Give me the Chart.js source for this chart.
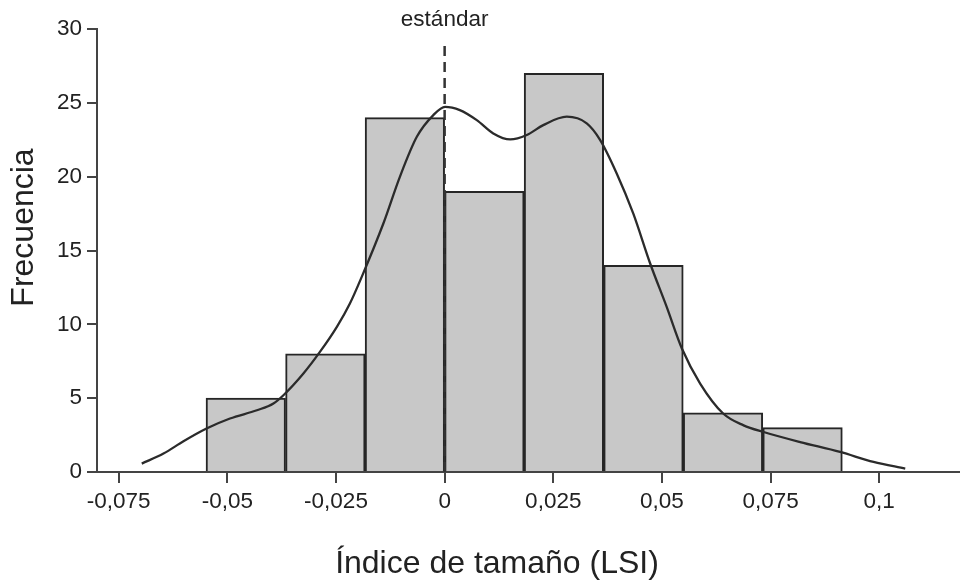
<!DOCTYPE html>
<html><head><meta charset="utf-8">
<script src="https://cdn.jsdelivr.net/npm/chart.js@4.4.0/dist/chart.umd.min.js"></script>
<style>html,body{margin:0;padding:0;background:#fff}#wrap{width:960px;height:581px}</style>
</head><body><div id="wrap"><canvas id="c" width="960" height="581"></canvas></div>
<script>
// ---- data ----
const binCenters = [-0.04576, -0.02745, -0.00915, 0.00915, 0.02745, 0.04576, 0.06406, 0.08237];
const binCounts  = [5, 8, 24, 19, 27, 14, 4, 3];
const curveX = [-0.0697, -0.0647, -0.0601, -0.0548, -0.0494, -0.0432, -0.0394, -0.0371, -0.0325, -0.0287, -0.0248, -0.0218, -0.0191, -0.0141, -0.0103, -0.0064, -0.0026, 0.0001, 0.0035, 0.0074, 0.0112, 0.0151, 0.0189, 0.0227, 0.0281, 0.0327, 0.0358, 0.0396, 0.0434, 0.0473, 0.0511, 0.0546, 0.0588, 0.0641, 0.0688, 0.0734, 0.0818, 0.0910, 0.0987, 0.1060];
const curveY = [0.57, 1.25, 2.08, 2.94, 3.62, 4.18, 4.64, 5.20, 6.67, 8.13, 9.83, 11.41, 13.2, 16.83, 19.99, 22.70, 24.17, 24.73, 24.51, 23.83, 22.93, 22.52, 22.82, 23.49, 24.06, 23.61, 22.48, 20.22, 17.51, 14.12, 11.18, 8.36, 5.99, 3.96, 3.16, 2.71, 2.03, 1.36, 0.68, 0.23];
const xTickValues = [-0.075, -0.05, -0.025, 0, 0.025, 0.05, 0.075, 0.1];
const xTickLabels = ['-0,075', '-0,05', '-0,025', '0', '0,025', '0,05', '0,075', '0,1'];
const yTickValues = [0, 5, 10, 15, 20, 25, 30];
const standardX = 0;
const standardTop = 29.1;
const refLabel = 'estándar';
const xTitle = 'Índice de tamaño (LSI)';
const yTitle = 'Frecuencia';

const FONT = "'Liberation Sans', Arial, sans-serif";

const textPlugin = {
  id: 'texts',
  afterDraw(chart) {
    const ctx = chart.ctx;
    const xs = chart.scales.x;
    ctx.save();
    ctx.fillStyle = '#222';
    ctx.font = '32px ' + FONT;
    ctx.textAlign = 'center';
    ctx.textBaseline = 'alphabetic';
    ctx.fillText(xTitle, 497, 573);
    ctx.save();
    ctx.translate(33, 227.5);
    ctx.rotate(-Math.PI / 2);
    ctx.fillText(yTitle, 0, 0);
    ctx.restore();
    ctx.font = '22.5px ' + FONT;
    ctx.fillText(refLabel, xs.getPixelForValue(standardX), 26);
    ctx.restore();
  }
};

new Chart(document.getElementById('c'), {
  type: 'bar',
  data: {
    datasets: [
      {
        type: 'line',
        data: curveX.map((x, i) => ({x: x, y: curveY[i]})),
        borderColor: '#2b2b2b',
        borderWidth: 2.3,
        pointRadius: 0,
        fill: false,
        cubicInterpolationMode: 'monotone',
        order: 1
      },
      {
        type: 'line',
        data: [{x: standardX, y: 0}, {x: standardX, y: standardTop}],
        borderColor: '#333',
        borderWidth: 2.5,
        borderDash: [10, 6],
        pointRadius: 0,
        fill: false,
        order: 2
      },
      {
        type: 'bar',
        data: binCenters.map((x, i) => ({x: x, y: binCounts[i]})),
        backgroundColor: '#c8c8c8',
        borderColor: '#262626',
        borderWidth: 2,
        barPercentage: 1,
        categoryPercentage: 1,
        grouped: false,
        order: 3
      }
    ]
  },
  options: {
    responsive: false,
    devicePixelRatio: 1,
    animation: false,
    layout: {padding: {top: 29, right: 0, left: 0, bottom: 0}},
    plugins: {legend: {display: false}, tooltip: {enabled: false}},
    scales: {
      x: {
        type: 'linear',
        min: -0.08,
        max: 0.1186,
        offset: false,
        afterBuildTicks: s => { s.ticks = xTickValues.map(v => ({value: v})); },
        afterFit: s => { s.height = 581 - 29 - 443; },
        ticks: {
          autoSkip: false,
          maxRotation: 0,
          padding: 5,
          color: '#222',
          font: {family: FONT, size: 22.5},
          callback: (v) => { const i = xTickValues.indexOf(v); return i >= 0 ? xTickLabels[i] : ''; }
        },
        grid: {drawOnChartArea: false, drawTicks: true, tickLength: 11, color: '#444', lineWidth: 2, offset: false},
        border: {display: true, color: '#444', width: 2}
      },
      y: {
        type: 'linear',
        min: 0,
        max: 30,
        afterBuildTicks: s => { s.ticks = yTickValues.map(v => ({value: v})); },
        afterFit: s => { s.width = 97; },
        ticks: {
          padding: 5,
          color: '#222',
          font: {family: FONT, size: 22.5},
          callback: v => String(v)
        },
        grid: {drawOnChartArea: false, drawTicks: true, tickLength: 10, color: '#444', lineWidth: 2},
        border: {display: true, color: '#444', width: 2}
      }
    }
  },
  plugins: [textPlugin]
});
</script>
</body></html>
